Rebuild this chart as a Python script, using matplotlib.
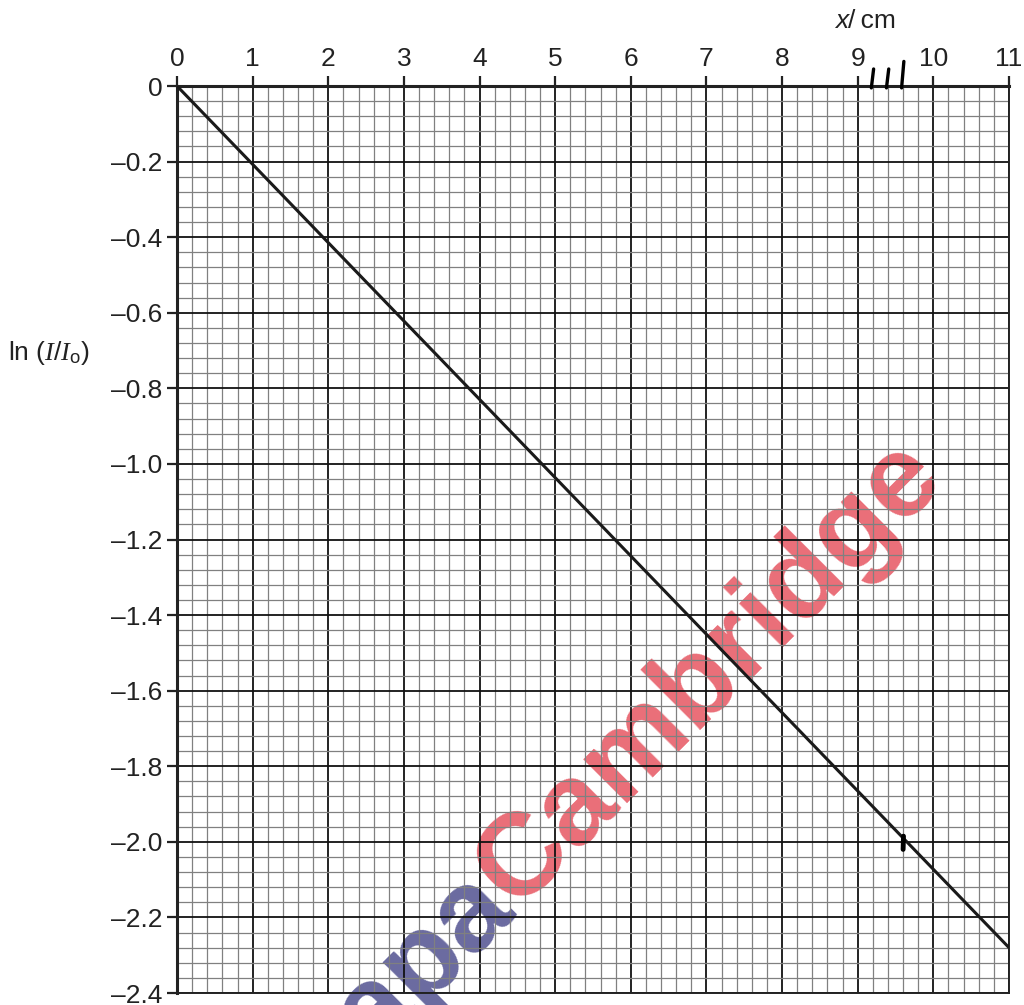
import matplotlib
matplotlib.use("Agg")
import matplotlib.pyplot as plt
import numpy as np

plt.rcParams["font.family"] = ["Liberation Sans", "DejaVu Sans"]
plt.rcParams["mathtext.fontset"] = "custom"
plt.rcParams["mathtext.rm"] = "Liberation Sans"
plt.rcParams["mathtext.it"] = "Liberation Serif:italic"

# Best-fit line of ln(I/Io) against thickness x
line_x = [0.0, 11.0]
line_y = [0.0, -2.28]

# Axis ticks and their labels
x_ticks = list(range(0, 12))
x_labels = [str(v) for v in x_ticks]
y_ticks = [0.0, -0.2, -0.4, -0.6, -0.8, -1.0, -1.2, -1.4, -1.6, -1.8, -2.0, -2.2, -2.4]
y_labels = ["0"] + ["\u2013%.1f" % abs(v) for v in y_ticks[1:]]

# Pen marks written on the sheet
tick_marks_x = [9.2, 9.4, 9.6]
point_mark = (9.6, -2.0)

fig = plt.figure(figsize=(10.24, 10.05), dpi=100)
ax = fig.add_axes([177 / 1024, 1 - 993 / 1005, (1009 - 177) / 1024, (993 - 86) / 1005])
ax.patch.set_alpha(0.0)

ax.set_xlim(0, 11)
ax.set_ylim(-2.4, 0)

# Graph-paper grid
ax.set_xticks(x_ticks)
ax.set_xticklabels(x_labels)
ax.set_xticks(np.arange(0, 11.001, 0.2), minor=True)
ax.set_yticks(y_ticks)
ax.set_yticklabels(y_labels)
ax.set_yticks(np.arange(-2.4, 0.001, 0.04), minor=True)
ax.grid(which="minor", color="#808080", linewidth=0.9, zorder=0)
ax.grid(which="major", color="#111111", linewidth=1.3, zorder=0.5)
ax.set_axisbelow(True)

ax.xaxis.tick_top()
ax.tick_params(which="major", direction="out", length=7.5, width=1.6, color="#222222",
               labelsize=19, pad=3, labelcolor="#222222")
ax.tick_params(which="minor", length=0)
ax.tick_params(axis="x", top=True, bottom=False, labeltop=True, labelbottom=False)
ax.tick_params(axis="y", left=True, right=False)

for side in ["top", "left"]:
    ax.spines[side].set_linewidth(2.2)
    ax.spines[side].set_color("#222222")
for side in ["bottom", "right"]:
    ax.spines[side].set_linewidth(1.4)
    ax.spines[side].set_color("#222222")

ax.plot(line_x, line_y, color="#1a1a1a", linewidth=2.2, solid_capstyle="butt", zorder=3)

# Pen marks
for i, xm in enumerate(tick_marks_x):
    top = 0.045 if i < 2 else 0.065
    ax.plot([xm - 0.02, xm + 0.01], [-0.005, top], color="black", linewidth=2.4,
            solid_capstyle="round", clip_on=False, zorder=4)
ax.plot([point_mark[0], point_mark[0] + 0.005], [point_mark[1] - 0.02, point_mark[1] + 0.015],
        color="black", linewidth=3.5, solid_capstyle="round", zorder=4)

# Axis titles
fig.text(8 / 1024, 1 - 360 / 1005, r"ln $(I/I_{\mathrm{o}})$", fontsize=19,
         color="#222222", ha="left", va="baseline")
fig.text(835 / 1024, 1 - 28 / 1005, "x", fontsize=19, style="italic",
         color="#222222", ha="left", va="baseline")
fig.text(848 / 1024, 1 - 28 / 1005, "/\u2009cm", fontsize=19,
         color="#222222", ha="left", va="baseline")

# Site watermark
angle = 45
wx, wy = 516 / 1024, 1 - 910 / 1005
fig.text(wx, wy, "papa", fontsize=84, fontweight="bold", color="#6a6aa0",
         rotation=angle, rotation_mode="anchor", ha="right", va="baseline", zorder=-1)
fig.text(wx, wy, "Cambridge", fontsize=84, fontweight="bold", color="#ea6e78",
         rotation=angle, rotation_mode="anchor", ha="left", va="baseline", zorder=-1)

fig.savefig("out.png", dpi=100)
